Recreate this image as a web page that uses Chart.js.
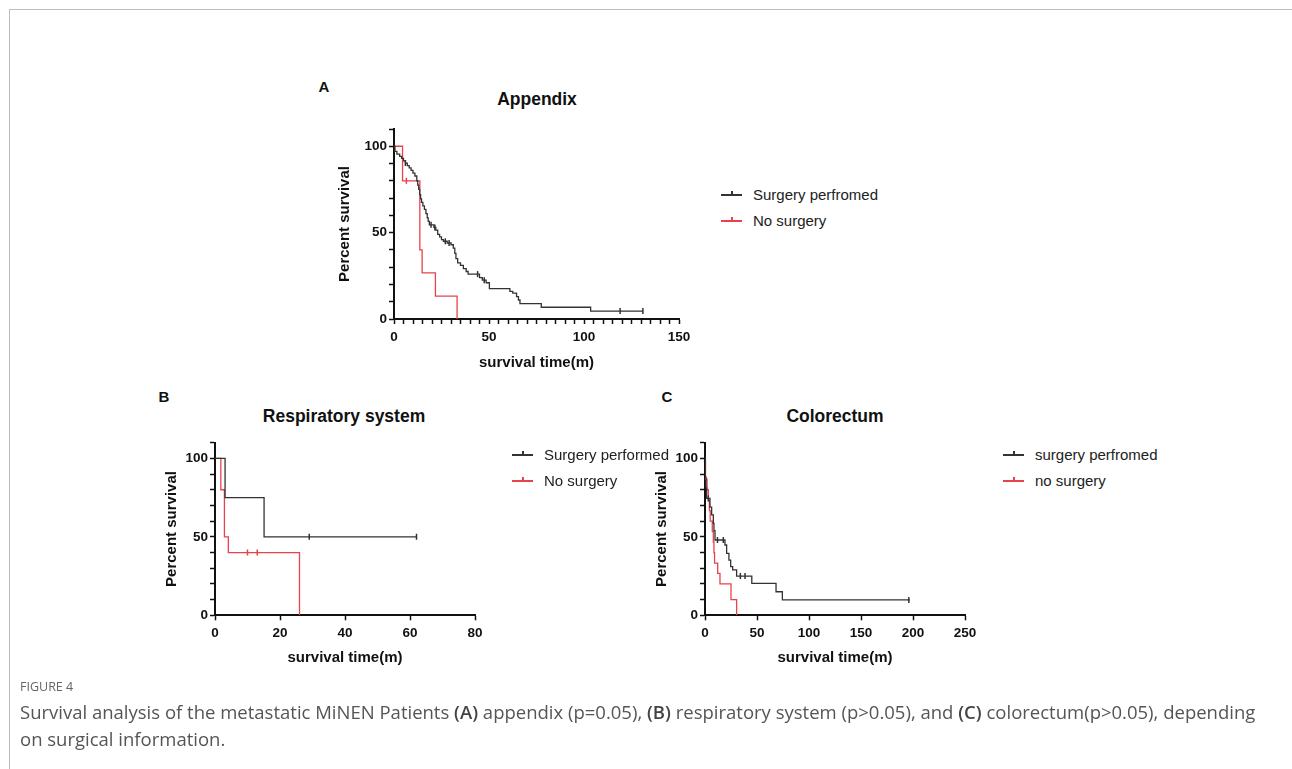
<!doctype html>
<html lang="en">

<head>
  <meta charset="utf-8">
  <title>Figure 4 - MiNEN survival</title>
  <script src="https://cdn.jsdelivr.net/npm/chart.js"></script>
  <style>
    body { margin: 0; width: 1292px; height: 769px; overflow: hidden; background: #fff; font-family: "Liberation Sans", Arial, sans-serif; color: #111; }
    .frame { position: absolute; left: 9px; top: 9px; width: 1300px; height: 800px; border: 1px solid #bdbdbd; }
    .abs { position: absolute; white-space: nowrap; transform: translate(-50%, -50%); }
    .letter { font-weight: bold; font-size: 15px; }
    .ptitle { font-weight: bold; font-size: 17.5px; }
    canvas { position: absolute; }
    .legend { position: absolute; font-size: 15px; color: #222; }
    .legend div { position: relative; height: 26px; line-height: 26px; padding-left: 32px; white-space: nowrap; }
    .legend span { position: absolute; left: 0; top: 12px; width: 21px; height: 1.5px; }
    .legend span::after { content: ""; position: absolute; left: 10px; top: -3px; width: 1.5px; height: 4px; background: inherit; }
    .caption { position: absolute; left: 20px; top: 676px; font-family: "Open Sans", sans-serif; color: #555; white-space: nowrap; }
    .caption .fig { font-size: 12.5px; color: #666; height: 22px; line-height: 22px; }
    .caption .txt { font-size: 18.5px; line-height: 27px; }
    .caption b { font-weight: 600; color: #444; }
  </style>
</head>

<body>
  <div class="frame"></div>

  <!-- panel letters and titles -->
  <div class="abs letter" style="left:324px;top:86px">A</div>
  <div class="abs ptitle" style="left:537px;top:99px">Appendix</div>
  <div class="abs letter" style="left:164px;top:396px">B</div>
  <div class="abs ptitle" style="left:344px;top:416px">Respiratory system</div>
  <div class="abs letter" style="left:667px;top:396px">C</div>
  <div class="abs ptitle" style="left:835px;top:416px">Colorectum</div>

  <canvas id="chartA" width="375" height="275" style="left:330px;top:110px"></canvas>
  <canvas id="chartB" width="355" height="260" style="left:150px;top:420px"></canvas>
  <canvas id="chartC" width="355" height="260" style="left:640px;top:420px"></canvas>

  <!-- legends -->
  <div class="legend" style="left:721px;top:182px">
    <div><span style="background:#333"></span>Surgery perfromed</div>
    <div><span style="background:#e8434b"></span>No surgery</div>
  </div>
  <div class="legend" style="left:512px;top:442px">
    <div><span style="background:#333"></span>Surgery performed</div>
    <div><span style="background:#e8434b"></span>No surgery</div>
  </div>
  <div class="legend" style="left:1003px;top:442px">
    <div><span style="background:#333"></span>surgery perfromed</div>
    <div><span style="background:#e8434b"></span>no surgery</div>
  </div>

  <div class="caption">
    <div class="fig">FIGURE 4</div>
    <div class="txt">Survival analysis of the metastatic MiNEN Patients <b>(A)</b> appendix (p=0.05), <b>(B)</b> respiratory system (p&gt;0.05), and <b>(C)</b> colorectum(p&gt;0.05), depending<br>on surgical information.</div>
  </div>

  <script>
    // === DATA: Kaplan-Meier steps (time in months, percent survival) ===

    // A - Appendix, surgery performed
    const aSurgTime = [0, 0.5, 1.5, 3, 4, 5, 6, 7, 8, 9, 10, 11, 12, 12.5, 13, 13.5, 14, 14.5, 15.2, 16, 16.8, 17.5, 18, 18.6, 21, 22, 23, 24, 25, 26, 28, 30, 31.2, 32, 32.6, 33.5, 35, 36.5, 38, 39, 45, 46.5, 48.5, 50.2, 61, 62.5, 64.5, 65.5, 66.3, 77.5, 103.5, 131];
    const aSurgPct = [100, 97, 95.5, 94.2, 93, 91.5, 90.3, 88.8, 87.5, 86, 84.5, 82.8, 80, 77.5, 75, 72, 69.5, 67.5, 65.5, 63.5, 61, 58.5, 56.5, 54.5, 53, 51.5, 49, 47.5, 46, 45, 44, 43, 41, 38, 35, 32.5, 31, 29.2, 27.5, 26, 24, 22.5, 21, 17.6, 16, 15, 13, 11, 8.9, 6.8, 4.6, 4.6];
    const aSurgCensorTime = [6, 19.5, 21.5, 27, 29, 44, 47.5, 119, 131];
    const aSurgCensorPct = [90.3, 54.5, 53, 45, 44, 26, 22.5, 4.6, 4.6];

    // A - Appendix, no surgery
    const aNoTime = [0, 4.5, 13.6, 14.8, 21.8, 33.2];
    const aNoPct = [100, 80, 40, 26.7, 13.3, 0];
    const aNoCensorTime = [6.5];
    const aNoCensorPct = [80];

    // B - Respiratory system
    const bSurgTime = [0, 3.1, 15.1, 62];
    const bSurgPct = [100, 75, 50, 50];
    const bSurgCensorTime = [29, 62];
    const bSurgCensorPct = [50, 50];
    const bNoTime = [0, 1.8, 2.9, 4.1, 26];
    const bNoPct = [100, 80, 50, 40, 0];
    const bNoCensorTime = [10, 13];
    const bNoCensorPct = [40, 40];

    // C - Colorectum
    const cSurgTime = [0, 0.3, 1, 1.6, 4.8, 6.4, 8, 8.6, 9.6, 19.2, 20.8, 23, 24.7, 26.6, 30.4, 45, 68.3, 74.4, 197];
    const cSurgPct = [100, 88, 81, 74.5, 69, 64, 58.6, 54, 48, 44.8, 39.5, 35.2, 31, 28.9, 25, 20.4, 15, 9.8, 9.8];
    const cSurgCensorTime = [3.2, 12, 17.6, 34, 38.5, 196];
    const cSurgCensorPct = [74.5, 48, 48, 25, 25, 9.8];
    const cNoTime = [0, 0.5, 2, 3.2, 4.2, 5, 7, 8, 8.6, 9.2, 12.2, 14.4, 25, 30.4];
    const cNoPct = [100, 86.7, 80, 73.3, 66.7, 60, 53.3, 46.7, 40, 33.3, 26.7, 20, 10, 0];

    // === STYLE ===
    const BLACK = "#333";
    const RED = "#e8434b";
    const AXIS = "#111";
    const TICK_FONT = { family: "'Liberation Sans', Arial, sans-serif", size: 13.5, weight: "bold" };
    const TITLE_FONT = { family: "'Liberation Sans', Arial, sans-serif", size: 15, weight: "bold" };

    // === HELPERS ===

    function toPoints(xs, ys) {
      return xs.map((x, i) => ({ x: x, y: ys[i] }));
    }

    function curve(xs, ys, color) {
      return {
        data: toPoints(xs, ys),
        showLine: true,
        stepped: true,
        borderColor: color,
        borderWidth: 1.3,
        pointRadius: 0
      };
    }

    function censor(xs, ys, color) {
      return {
        data: toPoints(xs, ys),
        showLine: false,
        pointStyle: "line",
        rotation: 90,
        pointRadius: 3,
        borderColor: color,
        borderWidth: 1.5
      };
    }

    function makeChart(id, p) {
      new Chart(document.getElementById(id), {
        type: "scatter",
        data: { datasets: p.datasets },
        options: {
          responsive: false,
          animation: false,
          devicePixelRatio: 1,
          layout: { padding: { left: 0, top: p.top, right: p.right, bottom: 0 } },
          plugins: { legend: { display: false }, tooltip: { enabled: false } },
          scales: {
            x: {
              type: "linear",
              min: 0,
              max: p.xMax,
              afterFit: s => { s.height = p.xHeight; },
              border: { display: true, color: AXIS, width: 2 },
              grid: { display: true, drawOnChartArea: false, drawTicks: true, tickLength: 5, tickColor: AXIS, tickWidth: 1.5 },
              ticks: {
                stepSize: p.xStep,
                autoSkip: false,
                maxRotation: 0,
                padding: 5,
                color: AXIS,
                font: TICK_FONT,
                callback: v => (v % p.xLabelEvery === 0 ? v : "")
              },
              title: { display: true, text: "survival time(m)", color: AXIS, font: TITLE_FONT, padding: { top: 0, bottom: p.xTitlePad } }
            },
            y: {
              type: "linear",
              min: 0,
              max: 110,
              afterFit: s => { s.width = p.yWidth; },
              border: { display: true, color: AXIS, width: 2 },
              grid: { display: true, drawOnChartArea: false, drawTicks: true, tickLength: 5, tickColor: AXIS, tickWidth: 1.5 },
              ticks: {
                stepSize: 10,
                autoSkip: false,
                padding: 2,
                color: AXIS,
                font: TICK_FONT,
                callback: v => (v % 50 === 0 ? v : "")
              },
              title: { display: true, text: "Percent survival", color: AXIS, font: TITLE_FONT, padding: { top: p.yTitlePad, bottom: 0 } }
            }
          }
        }
      });
    }

    // === PANEL A: Appendix ===
    makeChart("chartA", {
      datasets: [
        curve(aSurgTime, aSurgPct, BLACK),
        censor(aSurgCensorTime, aSurgCensorPct, BLACK),
        curve(aNoTime, aNoPct, RED),
        censor(aNoCensorTime, aNoCensorPct, RED)
      ],
      xMax: 150, xStep: 5, xLabelEvery: 50,
      top: 19, right: 26, xHeight: 66, yWidth: 64,
      xTitlePad: 13, yTitlePad: 6
    });

    // === PANEL B: Respiratory system ===
    makeChart("chartB", {
      datasets: [
        curve(bSurgTime, bSurgPct, BLACK),
        censor(bSurgCensorTime, bSurgCensorPct, BLACK),
        curve(bNoTime, bNoPct, RED),
        censor(bNoCensorTime, bNoCensorPct, RED)
      ],
      xMax: 80, xStep: 20, xLabelEvery: 20,
      top: 22.7, right: 30, xHeight: 64.7, yWidth: 65,
      xTitlePad: 13, yTitlePad: 13
    });

    // === PANEL C: Colorectum ===
    makeChart("chartC", {
      datasets: [
        curve(cSurgTime, cSurgPct, BLACK),
        censor(cSurgCensorTime, cSurgCensorPct, BLACK),
        curve(cNoTime, cNoPct, RED)
      ],
      xMax: 250, xStep: 50, xLabelEvery: 50,
      top: 22.7, right: 30, xHeight: 64.7, yWidth: 65,
      xTitlePad: 13, yTitlePad: 13
    });
  </script>
</body>

</html>
